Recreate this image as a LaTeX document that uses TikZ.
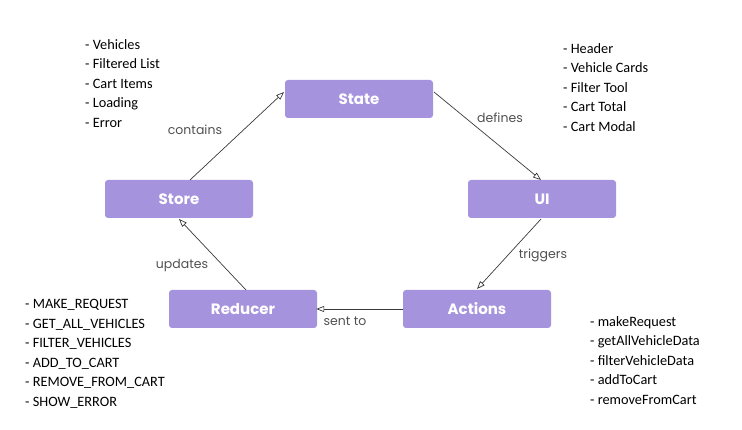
\documentclass[tikz,border=0pt]{standalone}
\usepackage{fontspec}
\setmainfont{Carlito}
\newfontfamily\popfont{Poppins}
\usetikzlibrary{arrows.meta}
\definecolor{boxc}{HTML}{A693DE}
\definecolor{linec}{HTML}{3A3A3A}
\definecolor{labc}{HTML}{505050}
\tikzset{
  stepbox/.style={fill=boxc,rounded corners=3pt,minimum width=148pt,minimum height=38pt,text=white,font=\popfont\fontsize{15}{18}\selectfont\bfseries,inner sep=0pt},
  conn/.style={draw=linec,line width=0.7pt,-{Triangle[open,length=8pt,width=6pt]}},
  elab/.style={text=labc,font=\popfont\fontsize{12.5}{15}\selectfont},
  lst/.style={align=left,anchor=north west,inner sep=0pt,font=\fontsize{14.3}{19.6}\selectfont}
}
\begin{document}
\begin{tikzpicture}[x=1pt,y=-1pt]
\useasboundingbox (0,0) rectangle (742,430);
\node[stepbox] (state) at (359,99) {State};
\node[stepbox] (store) at (179,199) {Store};
\node[stepbox] (ui) at (542,199) {UI};
\node[stepbox] (reducer) at (243,309) {Reducer};
\node[stepbox] (actions) at (477,309) {Actions};
\coordinate (stA) at (190,180);
\coordinate (stB) at (284,92);
\draw[conn] (stA) -- (stB);
\coordinate (sdA) at (434,92);
\coordinate (sdB) at (541,180);
\draw[conn] (sdA) -- (sdB);
\coordinate (uaA) at (541,219);
\coordinate (uaB) at (477,289);
\draw[conn] (uaA) -- (uaB);
\draw[conn] (actions.west) -- ([xshift=-1pt]reducer.east);
\coordinate (rsA) at (246,290);
\coordinate (rsB) at (179,219);
\draw[conn] (rsA) -- (rsB);
\node[elab] (l1) at (195,130) {contains};
\node[elab] (l2) at (500,118) {defines};
\node[elab] (l3) at (543,255) {triggers};
\node[elab] (l4) at (345,321) {sent to};
\node[elab] (l5) at (182,266) {updates};
\node[lst] (t1) at (85,39) {- Vehicles\\- Filtered List\\- Cart Items\\- Loading\\- Error};
\node[lst] (t2) at (563,43) {- Header\\- Vehicle Cards\\- Filter Tool\\- Cart Total\\- Cart Modal};
\node[lst] (t3) at (25,299) {- MAKE\_REQUEST\\- GET\_ALL\_VEHICLES\\- FILTER\_VEHICLES\\- ADD\_TO\_CART\\- REMOVE\_FROM\_CART\\- SHOW\_ERROR};
\node[lst] (t4) at (590,316) {- makeRequest\\- getAllVehicleData\\- filterVehicleData\\- addToCart\\- removeFromCart};
\end{tikzpicture}
\end{document}
